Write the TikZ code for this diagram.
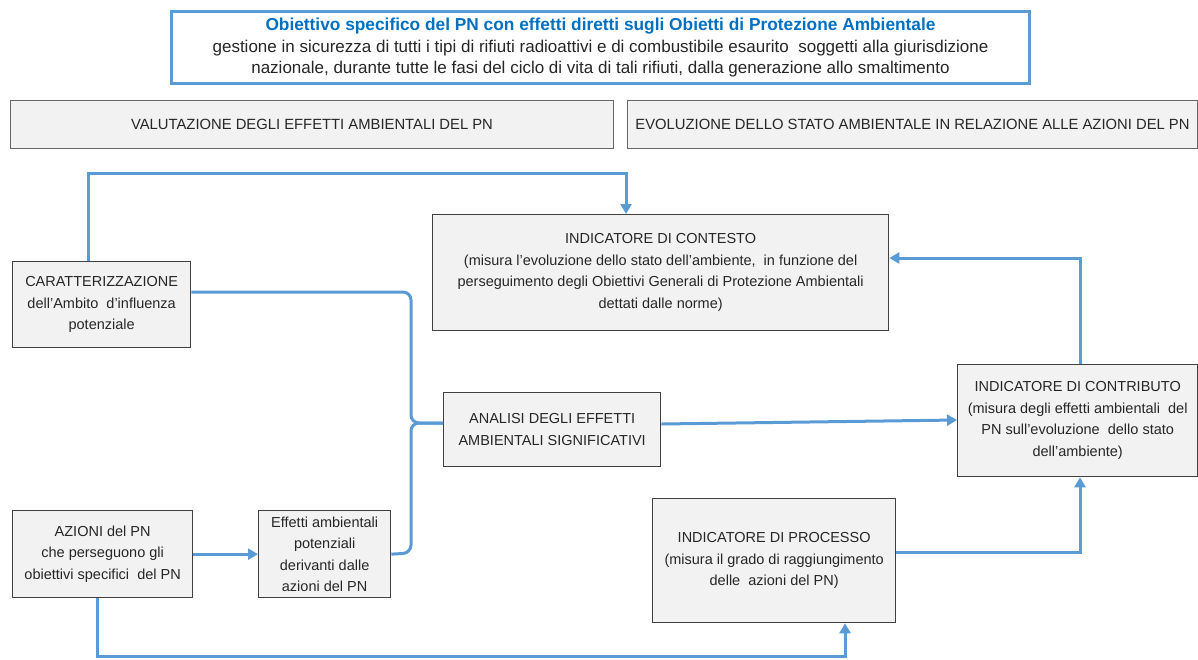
\documentclass[tikz,border=0pt]{standalone}
\usepackage{fontspec}
\setmainfont{Liberation Sans}
\usetikzlibrary{arrows.meta}
\definecolor{lblue}{HTML}{5B9BD5}
\definecolor{tblue}{HTML}{0070C0}
\definecolor{boxfill}{HTML}{F2F2F2}
\definecolor{boxline}{HTML}{404040}
\definecolor{txt}{HTML}{262626}
\begin{document}
\begin{tikzpicture}[x=1pt,y=-1pt,
  box/.style={draw=boxline, line width=1.3pt, fill=boxfill, align=center, inner sep=0pt,
    anchor=north west, font=\fontsize{14.5}{21.5}\selectfont, text=txt},
  hbox/.style={box, draw=boxline!80, line width=1pt, font=\fontsize{14.8}{21.5}\selectfont},
  conn/.style={draw=lblue, line width=3pt},
  arr/.style={conn, -{Triangle[length=10pt,width=11pt]}}]
\useasboundingbox (0,0) rectangle (1198,659);

% top objective box
\node[draw=lblue, line width=3pt, fill=white, anchor=north west, minimum width=858, minimum height=72,
  align=center, inner sep=0pt, font=\fontsize{17}{21.5}\selectfont, text=txt] (obj) at (170,10)
  {{\fontsize{17.3}{21.5}\selectfont\bfseries\color{tblue}Obiettivo specifico del PN con effetti diretti sugli Obietti di Protezione Ambientale}\\
   gestione in sicurezza di tutti i tipi di rifiuti radioattivi e di combustibile esaurito\ \ soggetti alla giurisdizione\\
   nazionale, durante tutte le fasi del ciclo di vita di tali rifiuti, dalla generazione allo smaltimento};

% header boxes
\node[hbox, minimum width=603, minimum height=48] (hval) at (10,100)
  {VALUTAZIONE DEGLI EFFETTI AMBIENTALI DEL PN};
\node[hbox, minimum width=570, minimum height=48] (hevo) at (627,100)
  {EVOLUZIONE DELLO STATO AMBIENTALE IN RELAZIONE ALLE AZIONI DEL PN};

% boxes
\node[box, minimum width=456, minimum height=116] (contesto) at (432,214)
  {INDICATORE DI CONTESTO\\
   (misura l’evoluzione dello stato dell’ambiente,\ \ in funzione del\\
   perseguimento degli Obiettivi Generali di Protezione Ambientali\\
   dettati dalle norme)};
\node[box, minimum width=178, minimum height=86] (carat) at (12,261)
  {CARATTERIZZAZIONE\\ dell’Ambito\ \ d’influenza\\ potenziale};
\node[box, minimum width=217, minimum height=74] (analisi) at (443,392)
  {ANALISI DEGLI EFFETTI\\ AMBIENTALI SIGNIFICATIVI};
\node[box, minimum width=240, minimum height=112] (contrib) at (957,364)
  {INDICATORE DI CONTRIBUTO\\ (misura degli effetti ambientali\ \ del\\ PN sull’evoluzione\ \ dello stato\\ dell’ambiente)};
\node[box, minimum width=243, minimum height=124] (processo) at (652,498)
  {INDICATORE DI PROCESSO\\ (misura il grado di raggiungimento\\ delle\ \ azioni del PN)};
\node[box, minimum width=180, minimum height=87] (azioni) at (12,510)
  {AZIONI del PN\\ che perseguono gli\\ obiettivi specifici\ \ del PN};
\node[box, minimum width=132, minimum height=87] (effetti) at (258,510)
  {Effetti ambientali\\ potenziali\\ derivanti dalle\\ azioni del PN};

% connectors
\draw[arr] (88,0 |- carat.north) -- (88,173) -- (626,173) -- (626,0 |- contesto.north);
\draw[arr] (1080,0 |- contrib.north) -- (1080,258) -- (contesto.east |- 0,258);
\draw[arr] (analisi.east |- 0,424) -- (contrib.west |- 0,420);
\draw[arr] (processo.east |- 0,552) -- (1080,552) -- (1080,0 |- contrib.south);
\draw[arr] (97,0 |- azioni.south) -- (97,656) -- (845,656) -- (845,0 |- processo.south);
\draw[arr] (azioni.east) -- (effetti.west);
\draw[conn, rounded corners=8pt] (carat.east |- 0,292) -- (411,292) -- (411,423) -- (analisi.west |- 0,423);
\draw[conn, rounded corners=8pt] (effetti.east) -- (411,553) -- (411,423) -- (analisi.west |- 0,423);
\end{tikzpicture}
\end{document}
